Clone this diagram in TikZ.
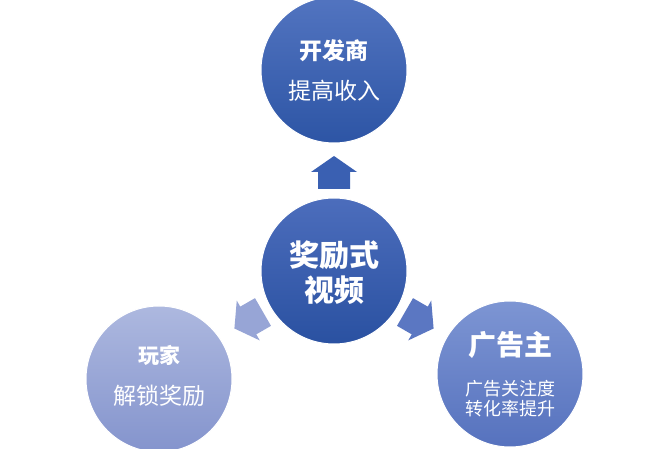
\documentclass[tikz,border=0pt]{standalone}
\usepackage{fontspec}
\newfontfamily\cjk{Noto Sans CJK SC}
\usetikzlibrary{calc}
\definecolor{devTop}{HTML}{5274C0}
\definecolor{devBot}{HTML}{2D55A5}
\definecolor{coreTop}{HTML}{4C6DBC}
\definecolor{coreBot}{HTML}{2A51A1}
\definecolor{plTop}{HTML}{ADB8DF}
\definecolor{plBot}{HTML}{8494CD}
\definecolor{adTop}{HTML}{7D95D3}
\definecolor{adBot}{HTML}{5672BE}
\definecolor{arUp}{HTML}{3A60B2}
\definecolor{arL}{HTML}{97A5D6}
\definecolor{arR}{HTML}{5B77C2}
\tikzset{
  bubble/.style={circle, minimum size=146pt, inner sep=0pt, draw=white, line width=1pt},
  lbl/.style={text=white, inner sep=0pt, font=\cjk},
  blockarrow/.style={draw=none}
}
\newcommand{\fsz}[1]{\fontsize{#1}{#1}\selectfont}
\begin{document}
\begin{tikzpicture}[x=1pt,y=-1pt]
\useasboundingbox (0,0) rectangle (670,449);
\clip (0,0) rectangle (670,449);
\fill[white] (0,0) rectangle (670,449);

\node[bubble, top color=devTop, bottom color=devBot] (dev) at (334,70) {};
\node[bubble, top color=coreTop, bottom color=coreBot] (core) at (334,271) {};
\node[bubble, top color=plTop, bottom color=plBot] (player) at (159,379) {};
\node[bubble, top color=adTop, bottom color=adBot] (adv) at (510,374) {};

% arrows radiating from the core
\begin{scope}[shift={(core.center)}]
  \fill[arUp] (0,-115) -- (23,-99) -- (16,-99) -- (16,-82) -- (-16,-82) -- (-16,-99) -- (-23,-99) -- cycle;
\end{scope}
\begin{scope}[shift={(core.center)}, rotate=120]
  \fill[arL] (0,-115) -- (23,-99) -- (16,-99) -- (16,-82) -- (-16,-82) -- (-16,-99) -- (-23,-99) -- cycle;
\end{scope}
\begin{scope}[shift={(core.center)}, rotate=-120]
  \fill[arR] (0,-115) -- (23,-99) -- (16,-99) -- (16,-82) -- (-16,-82) -- (-16,-99) -- (-23,-99) -- cycle;
\end{scope}

% labels
\node[lbl, font=\cjk\bfseries\fsz{23}] (devT) at ($(dev.center)+(0,-19)$) {开发商};
\node[lbl, font=\cjk\fsz{23}] (devS) at ($(dev.center)+(0,21)$) {提高收入};

\node[lbl, font=\cjk\bfseries\fsz{30}] (coreA) at ($(core.center)+(0,-16)$) {奖励式};
\node[lbl, font=\cjk\bfseries\fsz{30}] (coreB) at ($(core.center)+(0,19)$) {视频};

\node[lbl, font=\cjk\bfseries\fsz{21}] (plT) at ($(player.center)+(0,-24)$) {玩家};
\node[lbl, font=\cjk\fsz{23}] (plS) at ($(player.center)+(0,17)$) {解锁奖励};

\node[lbl, font=\cjk\bfseries\fsz{28}] (adT) at ($(adv.center)+(0,-29)$) {广告主};
\node[lbl, font=\cjk\fsz{18}] (adS1) at ($(adv.center)+(0,15)$) {广告关注度};
\node[lbl, font=\cjk\fsz{18}] (adS2) at ($(adv.center)+(0,35)$) {转化率提升};
\end{tikzpicture}
\end{document}
